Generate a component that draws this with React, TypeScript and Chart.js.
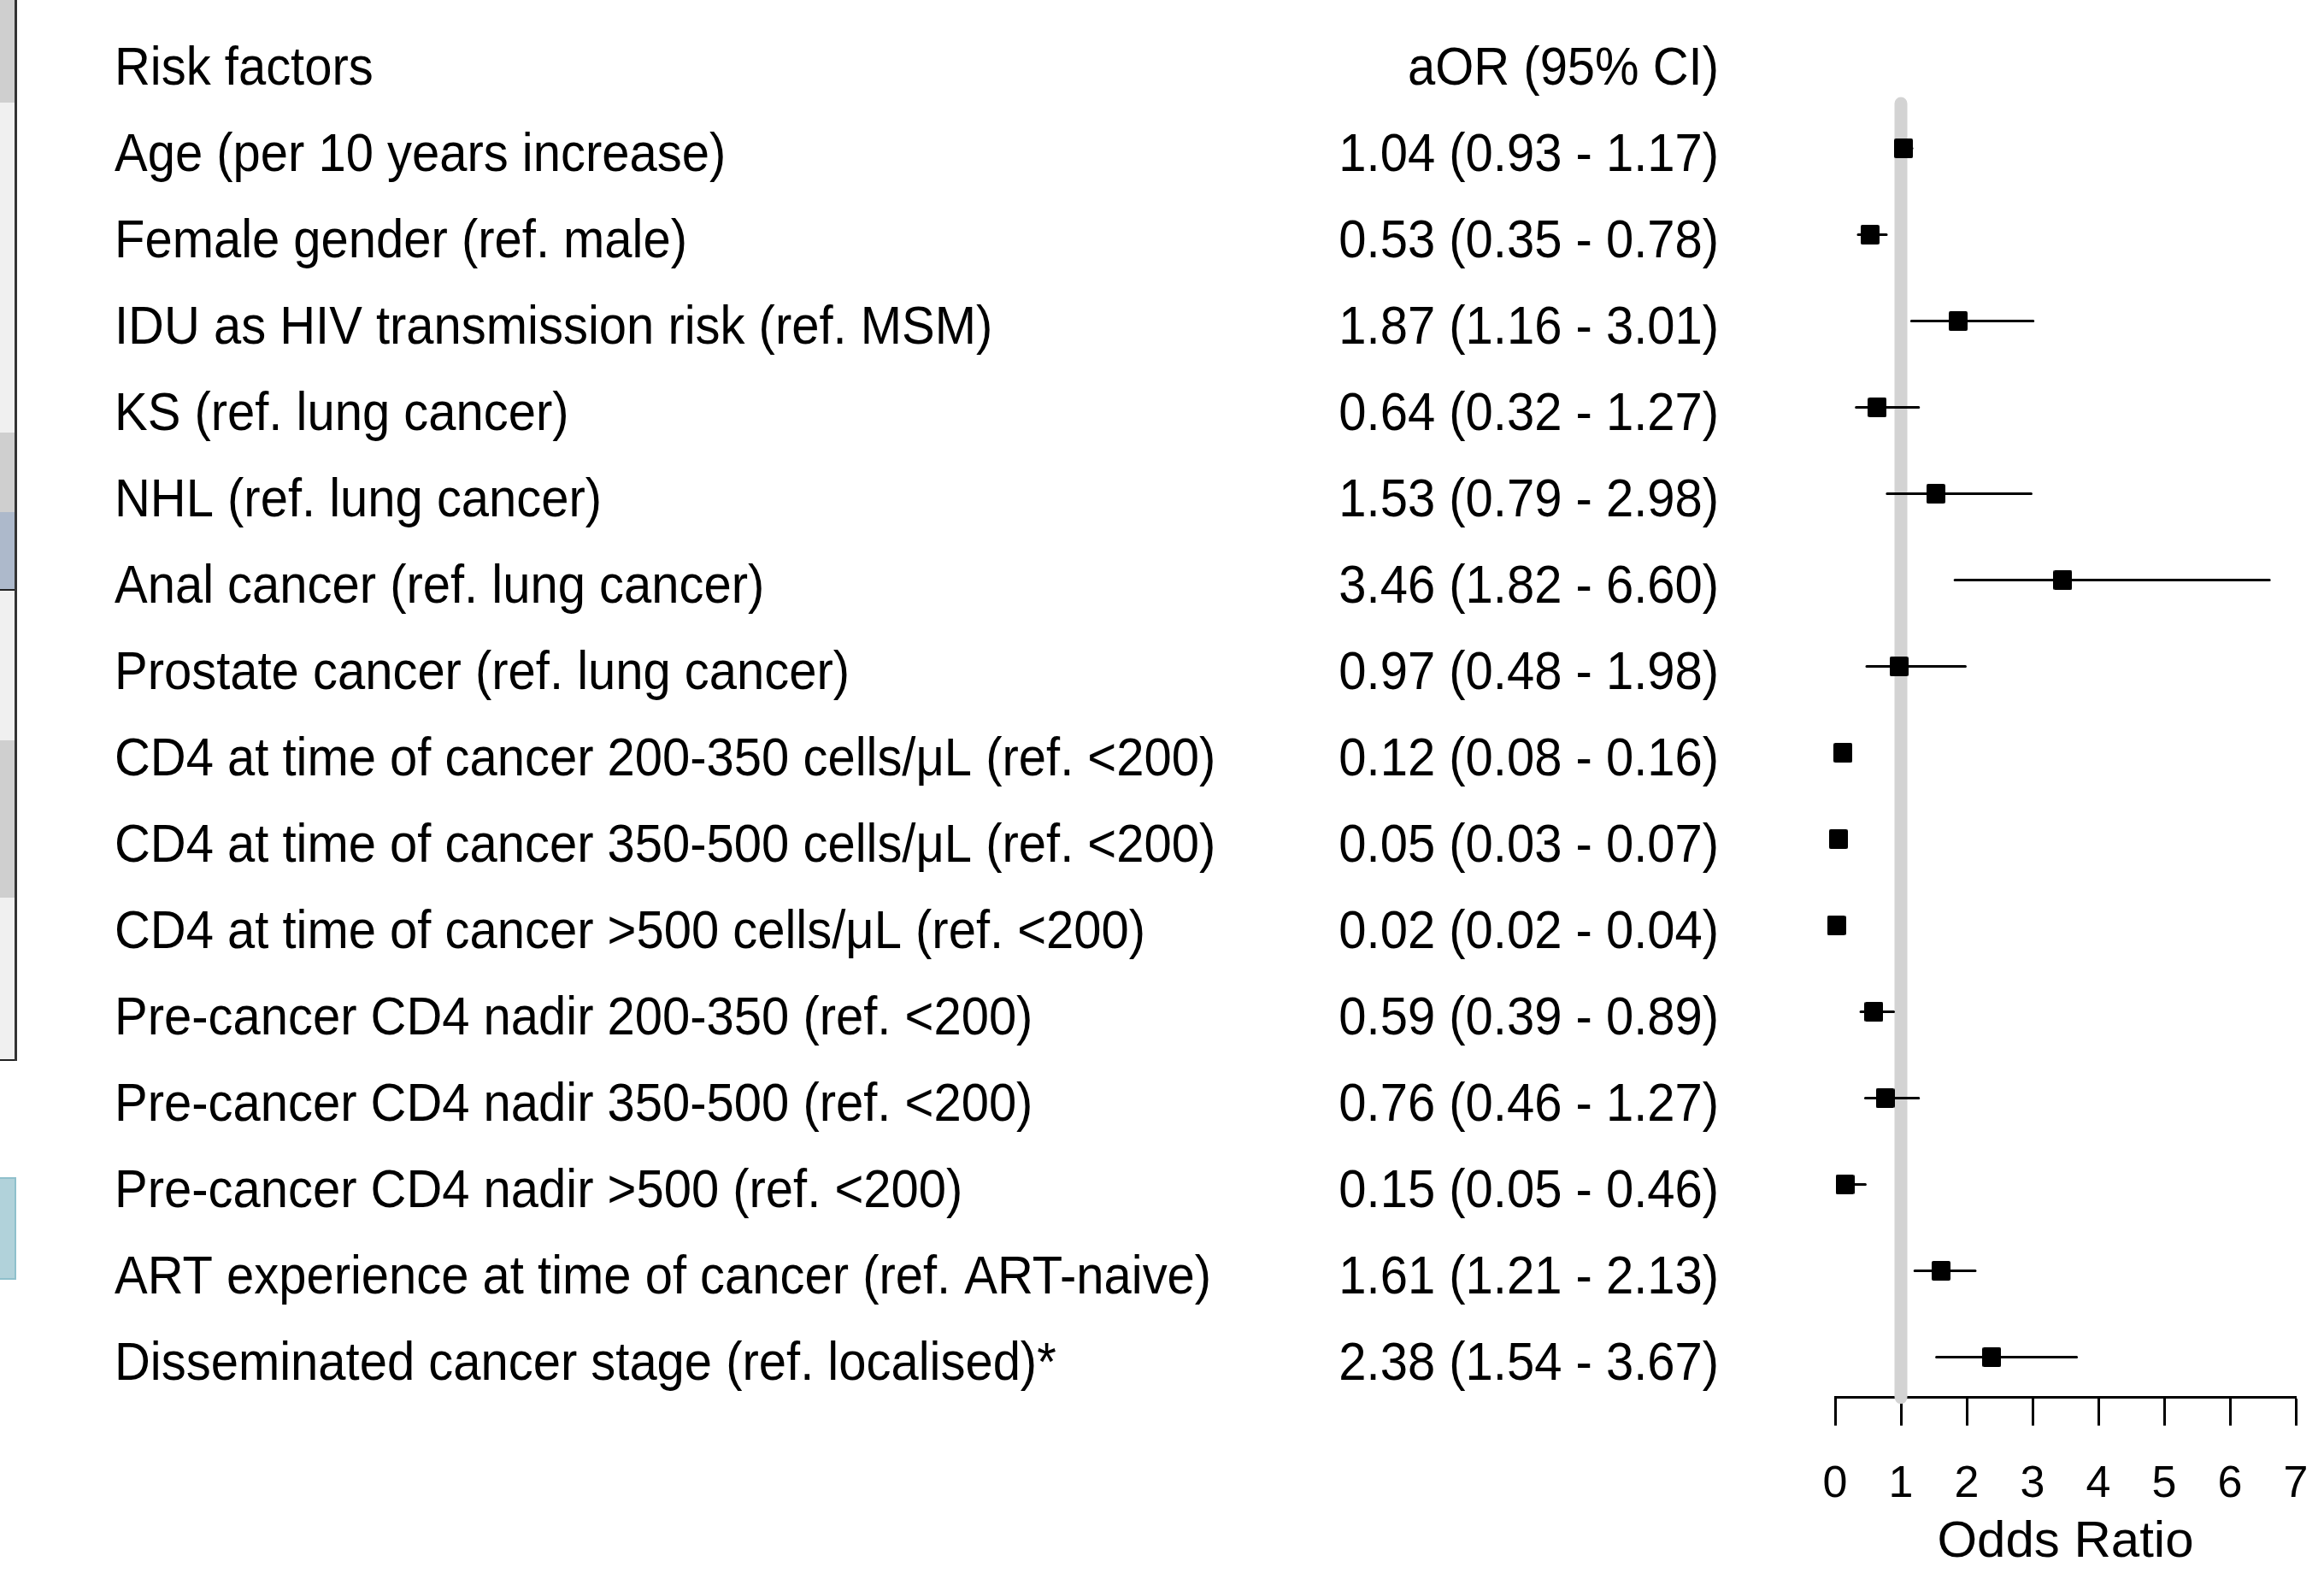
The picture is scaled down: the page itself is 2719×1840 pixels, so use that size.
import React, { useEffect, useRef } from "react";
import { Chart, registerables } from "chart.js";

Chart.register(...registerables);

const riskFactors: string[] = [
  "Age (per 10 years increase)",
  "Female gender (ref. male)",
  "IDU as HIV transmission risk (ref. MSM)",
  "KS (ref. lung cancer)",
  "NHL (ref. lung cancer)",
  "Anal cancer (ref. lung cancer)",
  "Prostate cancer (ref. lung cancer)",
  "CD4 at time of cancer 200-350 cells/μL (ref. <200)",
  "CD4 at time of cancer 350-500 cells/μL (ref. <200)",
  "CD4 at time of cancer >500 cells/μL (ref. <200)",
  "Pre-cancer CD4 nadir 200-350 (ref. <200)",
  "Pre-cancer CD4 nadir 350-500 (ref. <200)",
  "Pre-cancer CD4 nadir >500 (ref. <200)",
  "ART experience at time of cancer (ref. ART-naive)",
  "Disseminated cancer stage (ref. localised)*",
];
const oddsRatio: number[] = [1.04, 0.53, 1.87, 0.64, 1.53, 3.46, 0.97, 0.12, 0.05, 0.02, 0.59, 0.76, 0.15, 1.61, 2.38];
const ciLower: number[] = [0.93, 0.35, 1.16, 0.32, 0.79, 1.82, 0.48, 0.08, 0.03, 0.02, 0.39, 0.46, 0.05, 1.21, 1.54];
const ciUpper: number[] = [1.17, 0.78, 3.01, 1.27, 2.98, 6.6, 1.98, 0.16, 0.07, 0.04, 0.89, 1.27, 0.46, 2.13, 3.67];
const xTicks: number[] = [0, 1, 2, 3, 4, 5, 6, 7];
const refValue = 1;
const headerLeft = "Risk factors";
const headerRight = "aOR (95% CI)";
const axisTitle = "Odds Ratio";

const FONT = '"Liberation Sans", Arial, Helvetica, sans-serif';

export default function App() {
  const canvasRef = useRef<HTMLCanvasElement | null>(null);

  useEffect(() => {
    const canvas = canvasRef.current;
    if (!canvas) return;

    const marker = document.createElement("canvas");
    marker.width = 22;
    marker.height = 23;
    const mctx = marker.getContext("2d")!;
    mctx.fillStyle = "#000";
    mctx.beginPath();
    (mctx as any).roundRect ? (mctx as any).roundRect(0, 0, 22, 23, 2) : mctx.rect(0, 0, 22, 23);
    mctx.fill();

    const pointData = oddsRatio.map((v, i) => ({ x: v, y: i }));
    const barData: any[] = [];
    ciLower.forEach((lo, i) => {
      barData.push({ x: lo, y: i });
      barData.push({ x: ciUpper[i], y: i });
      barData.push({ x: (lo + ciUpper[i]) / 2, y: null });
    });
    const refData = [
      { x: refValue, y: -0.52 },
      { x: refValue, y: 14.466 },
    ];

    const textPlugin = {
      id: "forestText",
      afterDraw(chart: any) {
        const ctx = chart.ctx as CanvasRenderingContext2D;
        const ys = chart.scales.y;
        const sx = 0.92;
        const draw = (t: string, x: number, y: number, align: CanvasTextAlign) => {
          ctx.save();
          ctx.translate(x, y);
          ctx.scale(sx, 1);
          ctx.textAlign = align;
          ctx.fillText(t, 0, 0);
          ctx.restore();
        };
        ctx.save();
        ctx.fillStyle = "#000";
        ctx.font = `63px ${FONT}`;
        ctx.textBaseline = "alphabetic";
        const off = 26;
        const leftX = 134;
        const rightX = 2011;
        const hy = ys.getPixelForValue(-1) + off;
        draw(headerLeft, leftX, hy, "left");
        draw(headerRight, rightX, hy, "right");
        riskFactors.forEach((lab, i) => {
          const y = ys.getPixelForValue(i) + off;
          draw(lab, leftX, y, "left");
          const ci = `${oddsRatio[i].toFixed(2)} (${ciLower[i].toFixed(2)} - ${ciUpper[i].toFixed(2)})`;
          draw(ci, rightX, y, "right");
        });
        ctx.restore();
      },
    };

    const chart = new Chart(canvas, {
      type: "scatter",
      data: {
        datasets: [
          {
            label: "aOR",
            data: pointData,
            pointStyle: marker as any,
            pointRadius: 11,
            pointHoverRadius: 11,
            showLine: false,
            clip: false,
          } as any,
          {
            label: "CI",
            data: barData,
            showLine: true,
            spanGaps: false,
            borderColor: "#000",
            borderWidth: 3,
            borderCapStyle: "round",
            pointRadius: 0,
            pointHoverRadius: 0,
            clip: false,
          } as any,
          {
            label: "ref",
            data: refData,
            showLine: true,
            borderColor: "#d3d3d3",
            borderWidth: 15,
            borderCapStyle: "round",
            pointRadius: 0,
            pointHoverRadius: 0,
            clip: false,
          } as any,
        ],
      },
      options: {
        animation: false,
        responsive: false,
        maintainAspectRatio: false,
        devicePixelRatio: 1,
        layout: { padding: { left: 2147, right: 33, top: 11, bottom: 0 } },
        plugins: {
          legend: { display: false },
          tooltip: { enabled: false },
        },
        scales: {
          x: {
            type: "linear",
            position: "bottom",
            min: xTicks[0],
            max: xTicks[xTicks.length - 1],
            afterBuildTicks: (scale: any) => {
              scale.ticks = xTicks.map((v) => ({ value: v }));
            },
            afterFit: (scale: any) => {
              scale.paddingLeft = 0;
              scale.paddingRight = 0;
            },
            ticks: {
              stepSize: 1,
              color: "#000",
              font: { family: FONT, size: 52 },
              padding: 38,
              maxRotation: 0,
              autoSkip: false,
            },
            grid: {
              display: true,
              drawOnChartArea: false,
              drawTicks: true,
              tickLength: 33,
              tickWidth: 3,
              tickColor: "#000",
            },
            border: { display: true, color: "#000", width: 3 },
            title: {
              display: true,
              text: axisTitle,
              color: "#000",
              font: { family: FONT, size: 60 },
              padding: { top: -38, bottom: 0 },
            },
          },
          y: {
            type: "linear",
            reverse: true,
            min: -1.6,
            max: 14.466,
            display: false,
          },
        },
      } as any,
      plugins: [textPlugin],
    });

    return () => chart.destroy();
  }, []);

  const box = (top: number, height: number, bg: string): React.CSSProperties => ({
    position: "absolute",
    left: 0,
    top,
    width: 17,
    height,
    background: bg,
  });

  return (
    <div
      style={{
        position: "absolute",
        left: 0,
        top: 0,
        width: 2719,
        height: 1840,
        background: "#fff",
        overflow: "hidden",
      }}
    >
      <div style={box(0, 120, "#cfcfcf")} />
      <div style={box(120, 386, "#f0f0f0")} />
      <div style={box(506, 93, "#cfcfcf")} />
      <div style={box(599, 91, "#adb9cb")} />
      <div style={box(690, 176, "#f0f0f0")} />
      <div style={box(866, 184, "#cfcfcf")} />
      <div style={box(1050, 190, "#f0f0f0")} />
      <div style={{ position: "absolute", left: 0, top: 689, width: 19, height: 2, background: "#222" }} />
      <div style={{ position: "absolute", left: 0, top: 1239, width: 20, height: 2, background: "#222" }} />
      <div style={{ position: "absolute", left: 17, top: 0, width: 3, height: 1241, background: "#333" }} />
      <div
        style={{
          position: "absolute",
          left: 0,
          top: 1377,
          width: 17,
          height: 116,
          background: "#b1d2da",
          borderTop: "2px solid #8fc0cc",
          borderBottom: "2px solid #8fc0cc",
          borderRight: "2px solid #8fc0cc",
        }}
      />
      <canvas
        ref={canvasRef}
        width={2719}
        height={1840}
        style={{ position: "absolute", left: 0, top: 0, width: 2719, height: 1840, display: "block" }}
      />
    </div>
  );
}
